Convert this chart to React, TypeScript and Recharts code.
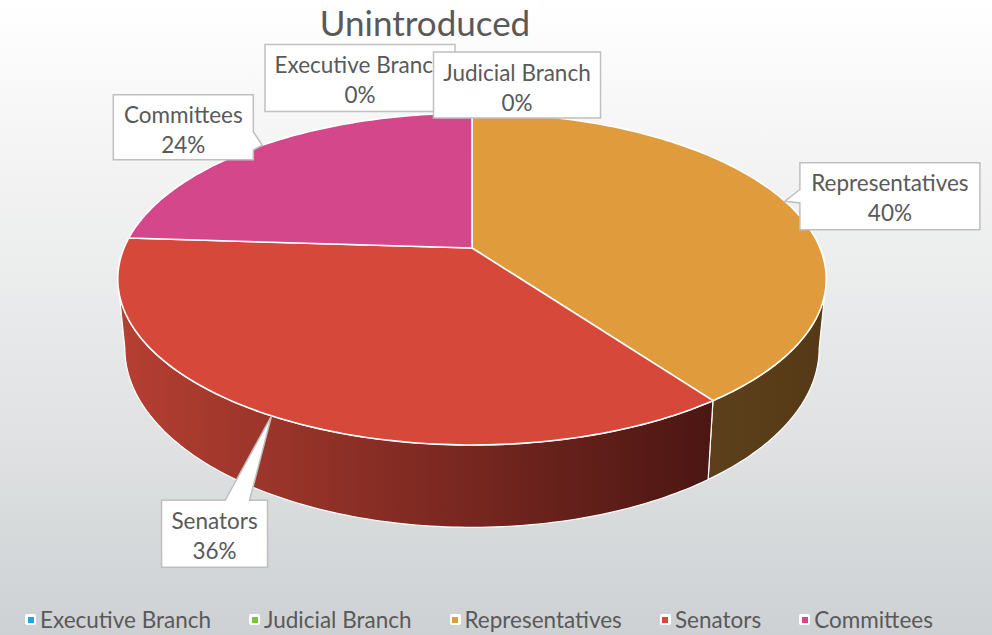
import React from 'react';
import { PieChart, Pie, Cell } from 'recharts';

// Data
const chartTitle = 'Unintroduced';
const categories = ['Executive Branch', 'Judicial Branch', 'Representatives', 'Senators', 'Committees'];
const shares = [0, 0, 40, 36, 24];
const colors = ['#1fa6e0', '#7cc242', '#e09b3d', '#d5483a', '#d4478a'];

// side (extruded edge) shading, left -> right
const sideShades: [string, string][] = [
  ['#135f80', '#0b3a4e'],
  ['#4d7a28', '#2f4b18'],
  ['#5d401b', '#553916'],
  ['#b63f32', '#4b1613'],
  ['#8a2c59', '#4a1630'],
];

const data = categories.map((name, i) => ({ name, value: shares[i] }));

// Geometry of the tilted disc (perspective)
const W = 992;
const HGT = 635;
const CX = 472;
const CY = 248;
const RX = 348;
const K = 0.1867; // foreshortening far vs near
const HOR = 858; // horizon -> centre distance
const DEPTH = 67;
const SHRINK = 0.02;
const VIS_FROM = (Math.acos(-K) * 180) / Math.PI;
const VIS_TO = 360 - VIS_FROM;

const TEXT = '#595959';
const FONT = 'Lato, "Open Sans", sans-serif';

// callout boxes: offset of box centre from the slice tip, size, wedge edge
const labelLayout = [
  { dx: -112, dy: -35, w: 190, h: 67, edge: '', from: 0, to: 0 },
  { dx: 45, dy: -28, w: 167, h: 66, edge: '', from: 0, to: 0 },
  { dx: 105, dy: -5, w: 180, h: 67, edge: 'left', from: 0.4, to: 0.6 },
  { dx: -57, dy: 118, w: 106, h: 67, edge: 'top', from: 0.6, to: 0.83 },
  { dx: -79, dy: -18, w: 140, h: 65, edge: 'right', from: 0.57, to: 0.85 },
];

const proj = (cx: number, cy: number, a: number, phiDeg: number, r: number, drop: number) => {
  const p = (phiDeg * Math.PI) / 180;
  const X = r * Math.sin(p);
  const Z = r * Math.cos(p);
  const w = 1 + K * Z;
  const s = 1 - (SHRINK * drop) / DEPTH;
  return [cx + ((a * X) / w) * s, cy - HOR + (HOR + drop) / w];
};

const arcPts = (cx: number, cy: number, a: number, p1: number, p2: number, drop: number) => {
  const n = Math.max(2, Math.ceil(Math.abs(p2 - p1)));
  const pts: number[][] = [];
  for (let i = 0; i <= n; i++) {
    pts.push(proj(cx, cy, a, p1 + ((p2 - p1) * i) / n, 1, drop));
  }
  return pts;
};

const toPath = (pts: number[][]) => pts.map((p, i) => `${i ? 'L' : 'M'}${p[0].toFixed(2)},${p[1].toFixed(2)}`).join(' ');

const TopFace = (props: any) => {
  const { cx, cy, outerRadius, startAngle, endAngle, fill } = props;
  const p1 = 90 - startAngle;
  const p2 = 90 - endAngle;
  if (Math.abs(p2 - p1) < 0.01) return <g />;
  const pts = [[cx, cy], ...arcPts(cx, cy, outerRadius, p1, p2, 0)];
  return <path d={toPath(pts) + ' Z'} fill={fill} stroke="#ffffff" strokeWidth={1.6} strokeLinejoin="round" />;
};

const SideFace = (props: any) => {
  const { cx, cy, outerRadius, startAngle, endAngle, index } = props;
  const p1 = Math.max(90 - startAngle, VIS_FROM);
  const p2 = Math.min(90 - endAngle, VIS_TO);
  if (p2 - p1 < 0.01) return <g />;
  const top = arcPts(cx, cy, outerRadius, p1, p2, 0);
  const bot = arcPts(cx, cy, outerRadius, p2, p1, DEPTH);
  const id = `side-grad-${index}`;
  const shade = sideShades[index] || ['#555', '#222'];
  return (
    <g>
      <defs>
        <linearGradient id={id} x1="0" y1="0" x2="1" y2="0">
          <stop offset="0%" stopColor={shade[0]} />
          <stop offset="100%" stopColor={shade[1]} />
        </linearGradient>
      </defs>
      <path d={toPath([...top, ...bot]) + ' Z'} fill={`url(#${id})`} stroke="#ffffff" strokeWidth={1.2} strokeLinejoin="round" />
    </g>
  );
};

const calloutPath = (bx: number, by: number, w: number, h: number, edge: string, from: number, to: number, tx: number, ty: number) => {
  const TL = [bx, by], TR = [bx + w, by], BR = [bx + w, by + h], BL = [bx, by + h];
  let pts: number[][];
  if (edge === 'right') {
    pts = [TL, TR, [bx + w, by + h * from], [tx, ty], [bx + w, by + h * to], BR, BL];
  } else if (edge === 'left') {
    pts = [TL, TR, BR, BL, [bx, by + h * to], [tx, ty], [bx, by + h * from]];
  } else if (edge === 'top') {
    pts = [TL, [bx + w * from, by], [tx, ty], [bx + w * to, by], TR, BR, BL];
  } else {
    pts = [TL, TR, BR, BL];
  }
  return toPath(pts) + ' Z';
};

const renderLabel = (props: any) => {
  const { cx, cy, outerRadius, midAngle, index, percent, name } = props;
  const lay = labelLayout[index];
  const [tx, ty] = proj(cx, cy, outerRadius, 90 - midAngle, 1, 0);
  const bx = tx + lay.dx - lay.w / 2;
  const by = ty + lay.dy - lay.h / 2;
  return (
    <g key={`lbl-${index}`}>
      <path d={calloutPath(bx, by, lay.w, lay.h, lay.edge, lay.from, lay.to, tx, ty)} fill="#ffffff" stroke="#bfbfbf" strokeWidth={1.5} strokeLinejoin="miter" />
      <text x={bx + lay.w / 2} y={by + 20} textAnchor="middle" dominantBaseline="central" fill={TEXT} fontSize={22.5} fontFamily={FONT}>
        {name}
      </text>
      <text x={bx + lay.w / 2} y={by + 50} textAnchor="middle" dominantBaseline="central" fill={TEXT} fontSize={22.5} fontFamily={FONT}>
        {`${Math.round((percent || 0) * 100)}%`}
      </text>
    </g>
  );
};

export default function App() {
  return (
    <div
      style={{
        position: 'absolute',
        left: 0,
        top: 0,
        width: W,
        height: HGT,
        overflow: 'hidden',
        background: 'linear-gradient(180deg, #ffffff 0%, #f5f5f5 22%, #dfe1e2 70%, #cdd1d3 100%)',
        fontFamily: FONT,
      }}
    >
      <div style={{ position: 'absolute', left: 0, width: 850, top: 1, textAlign: 'center', fontSize: 35, color: TEXT, lineHeight: '42px' }}>
        {chartTitle}
      </div>

      <div style={{ position: 'absolute', left: 0, top: 0 }}>
        <PieChart width={W} height={HGT} margin={{ top: 0, right: 0, bottom: 0, left: 0 }}>
          <Pie
            data={data}
            dataKey="value"
            nameKey="name"
            cx={CX}
            cy={CY}
            outerRadius={RX}
            startAngle={90}
            endAngle={-270}
            isAnimationActive={false}
            shape={SideFace}
            inactiveShape={SideFace}
            activeShape={SideFace}
            label={false}
            labelLine={false}
            legendType="none"
          >
            {data.map((d, i) => (
              <Cell key={d.name} fill={colors[i]} />
            ))}
          </Pie>
          <Pie
            data={data}
            dataKey="value"
            nameKey="name"
            cx={CX}
            cy={CY}
            outerRadius={RX}
            startAngle={90}
            endAngle={-270}
            isAnimationActive={false}
            shape={TopFace}
            inactiveShape={TopFace}
            activeShape={TopFace}
            label={renderLabel}
            labelLine={false}
          >
            {data.map((d, i) => (
              <Cell key={d.name} fill={colors[i]} />
            ))}
          </Pie>
        </PieChart>
      </div>

      <div style={{ position: 'absolute', left: 25, top: 606, display: 'flex', alignItems: 'center', gap: 38, fontSize: 22.5, color: TEXT }}>
        {categories.map((c, i) => (
          <div key={c} style={{ display: 'flex', alignItems: 'center', gap: 4 }}>
            <span
              style={{
                width: 11,
                height: 11,
                background: '#ffffff',
                borderRadius: 2,
                display: 'inline-flex',
                alignItems: 'center',
                justifyContent: 'center',
              }}
            >
              <span style={{ width: 6, height: 6, background: colors[i], display: 'block' }} />
            </span>
            <span>{c}</span>
          </div>
        ))}
      </div>
    </div>
  );
}
